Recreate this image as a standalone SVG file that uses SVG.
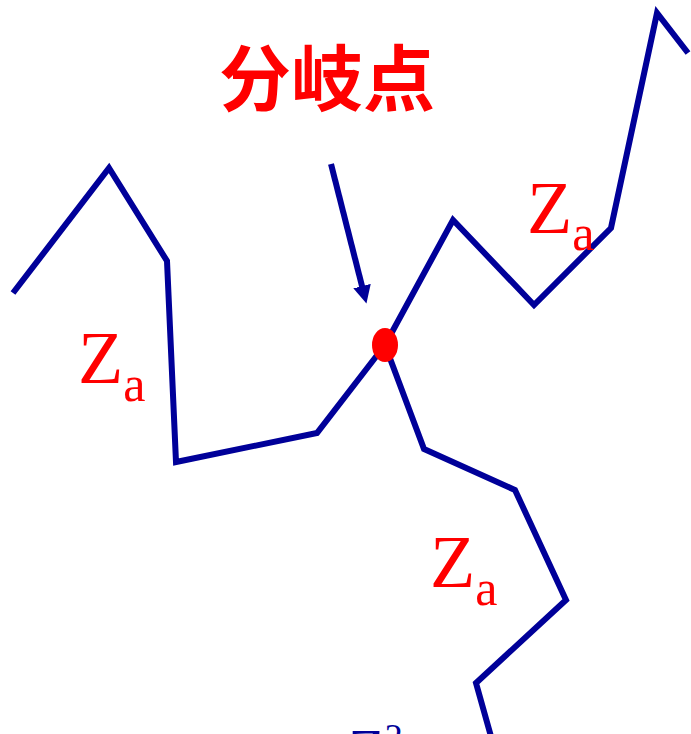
<svg xmlns="http://www.w3.org/2000/svg" width="691" height="734" viewBox="0 0 691 734">
<style>
.chain{fill:none;stroke:#000099;stroke-width:6;stroke-linejoin:miter;stroke-linecap:butt}
.lbl{font-family:"Liberation Serif","Times New Roman",serif;fill:#ff0000}
.title{font-family:"Noto Sans CJK SC","Noto Sans CJK JP",sans-serif;font-weight:bold;fill:#ff0000}
</style>
<defs>
<marker id="ah" markerUnits="userSpaceOnUse" markerWidth="20" markerHeight="22" refX="4" refY="9" orient="auto">
<path d="M0,0 L18,9 L0,18 Z" fill="#000099"/>
</marker>
</defs>
<rect width="691" height="734" fill="#ffffff"/>
<g id="connectors">
<polyline class="chain" points="13,293 109,168 167,261 176,462 317,433 385,345"/>
<polyline class="chain" points="385,345 453,220 534,305 611,228 657,13 688,53"/>
<polyline class="chain" points="385,345 424,449 515,490 566,600 476,683 492,740"/>
<line x1="331" y1="164" x2="363" y2="290" stroke="#000099" stroke-width="6" marker-end="url(#ah)"/>
</g>
<g id="branch-point">
<ellipse cx="385" cy="345" rx="13" ry="17" fill="#ff0000"/>
</g>
<g id="title">
<text class="title" x="327" y="105" font-size="72" text-anchor="middle">分岐点</text>
</g>
<g id="label-left">
<text class="lbl" x="78" y="383" font-size="74">Z<tspan font-size="50" dy="18">a</tspan></text>
</g>
<g id="label-upper">
<text class="lbl" x="527" y="233" font-size="74">Z<tspan font-size="50" dy="17">a</tspan></text>
</g>
<g id="label-lower">
<text class="lbl" x="430" y="587" font-size="74">Z<tspan font-size="50" dy="18">a</tspan></text>
</g>
<g id="label-bottom">
<text x="348" y="770" font-size="60" font-family="Liberation Serif, Times New Roman, serif" fill="#000099">Z<tspan font-size="36" dy="-21">2</tspan></text>
</g>
</svg>
